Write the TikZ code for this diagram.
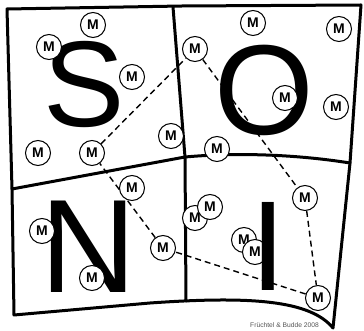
\documentclass[tikz,border=0pt]{standalone}
\usepackage{fontspec}
\setmainfont{Liberation Sans}
\usetikzlibrary{backgrounds}
\definecolor{creditgray}{RGB}{85,85,85}

\begin{document}
\begin{tikzpicture}[x=1pt, y=-1pt,
    border/.style={line width=3pt, line join=round, line cap=round},
    letter/.style={inner sep=0pt, anchor=base, font=\fontsize{128}{128}\selectfont},
    mcirc/.style={circle, draw, line width=1pt, fill=white, minimum size=25pt,
      inner sep=0pt, font=\fontsize{14}{14}\selectfont\bfseries},
    route/.style={line width=1.4pt, dash pattern=on 6pt off 4pt}]
  \useasboundingbox (0,0) rectangle (364,331);

  % frame and cell borders
  \draw[border] (7,9) -- (182,6) -- (361,5) -- (350,163) -- (333,328)
    .. controls (310,300) and (250,296) .. (150,303) -- (14,315) -- (12,189) -- cycle;
  \draw[border] (12,189) -- (185,157) .. controls (240,152) and (300,155) .. (350,163);
  \draw[border] (173,7) -- (185,157) -- (186,301);

  \node[letter, font=\fontsize{122}{122}\selectfont] (s) at (84,126.5) {S};
  \node[letter] (o) at (264,135) {O};
  \node[letter, font=\fontsize{133}{133}\selectfont] (n) at (88.5,292) {N};

  \foreach \x/\y [count=\i] in {93/25, 49/47, 132/77, 171/136, 38/153, 92/153,
      253/23, 339/29, 195/49, 285/98, 336/107, 217/149, 132/188, 42/231,
      163/248, 92/278, 305/198, 195/218, 210/207, 244/240, 255/252, 318/298}
    \node[mcirc] (m\i) at (\x,\y) {M};

  \node[letter] (i) at (268,290) {I};

  \begin{scope}[on background layer]
    \draw[route] (m6) -- (m9) -- (m17) -- (m22) -- (m15) -- (m6);
  \end{scope}

  \node[inner sep=0pt, anchor=base, text=creditgray, font=\fontsize{6.7}{6.7}\selectfont]
    (credit) at (284.5,327.5) {Früchtel \& Budde 2008};
\end{tikzpicture}
\end{document}
